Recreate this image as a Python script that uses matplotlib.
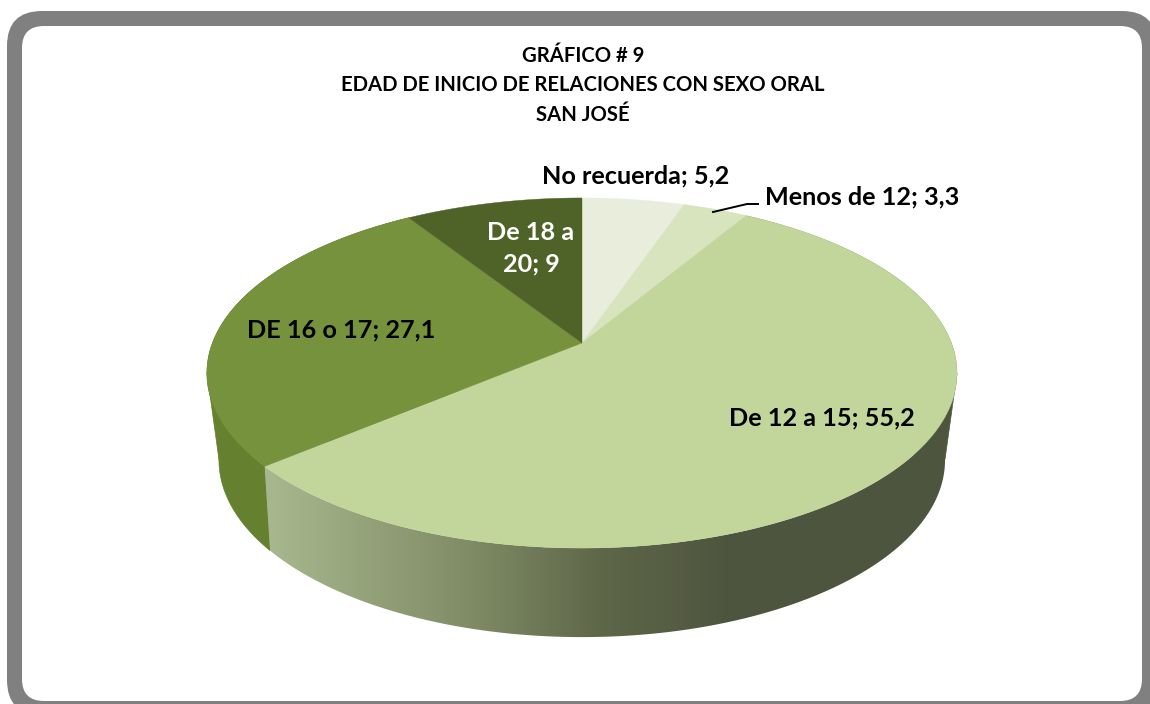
import numpy as np
import matplotlib
matplotlib.use("Agg")
import matplotlib.pyplot as plt
from matplotlib.patches import FancyBboxPatch, Polygon
from matplotlib.colors import LinearSegmentedColormap

# datos
categorias = ["No recuerda", "Menos de 12", "De 12 a 15", "DE 16 o 17", "De 18 a 20"]
valores = [5.2, 3.3, 55.2, 27.1, 9]
etiquetas = ["No recuerda; 5,2", "Menos de 12; 3,3", "De 12 a 15; 55,2",
             "DE 16 o 17; 27,1", "De 18 a\n20; 9"]
colores = ["#e8eedb", "#d7e4bd", "#c2d69b", "#76923c", "#4f6228"]
titulo = ["GRÁFICO # 9", "EDAD DE INICIO DE RELACIONES CON SEXO ORAL", "SAN JOSÉ"]

plt.rcParams["font.family"] = ["Lato", "DejaVu Sans"]
plt.rcParams["font.weight"] = "bold"

fig = plt.figure(figsize=(11.5, 7.04), dpi=100)
ax = fig.add_axes([0, 0, 1, 1])
ax.axis("off")


# proyeccion del circulo del pastel a la pantalla (en pixeles)
def proyectar(ang, a, b, k, cy):
    u = np.sin(ang)
    v = np.cos(ang)
    d = 1 + k * v
    return 582 + a * u / d, cy - b * v / d


def arriba(ang):
    return proyectar(ang, 369.5, 169.9, 0.1714, 343)


def abajo(ang):
    return proyectar(ang, 355.7, 170, 0.2, 424.6)


# marco
ax.add_patch(FancyBboxPatch((7 + 35, 11 + 35), 1150 - 70, 704 - 70,
                            boxstyle="round,pad=35,rounding_size=35",
                            fc="#808080", ec="none", zorder=0))
ax.add_patch(FancyBboxPatch((22 + 22, 26 + 22), 1120 - 44, 675 - 44,
                            boxstyle="round,pad=22,rounding_size=22",
                            fc="white", ec="none", zorder=0.1))

cortes = np.cumsum([0] + valores) / sum(valores) * 2 * np.pi

# pared lateral
grad = LinearSegmentedColormap.from_list(
    "pared", [(0, "#a9b98f"), (0.45, "#7f8b65"), (0.72, "#5f6749"), (1, "#4e553e")])
franja = np.linspace(0, 1, 256).reshape(1, -1)


def pared(i):
    t = np.linspace(cortes[i], cortes[i + 1], 300)
    x1, y1 = arriba(t)
    x2, y2 = abajo(t)
    return np.column_stack([np.r_[x1, x2[::-1]], np.r_[y1, y2[::-1]]])


# borde recto entre el extremo de arriba y el de abajo
def borde(i, extremo):
    t = np.linspace(cortes[i], cortes[i + 1], 300)
    x1, y1 = arriba(t)
    x2, y2 = abajo(t)
    a = extremo(x1)
    b = extremo(x2)
    return [(x1[a], y1[a]), (x2[b], y2[b]), (582, 400)]


ax.add_patch(Polygon(pared(3), fc="#65812f", ec="#65812f", lw=0.5, zorder=1))
ax.add_patch(Polygon(borde(3, np.argmin), fc="#65812f", ec="#65812f", lw=0.5, zorder=1))
ax.add_patch(Polygon(borde(2, np.argmax), fc="#4e553e", ec="#4e553e", lw=0.5, zorder=1))

p_d = Polygon(pared(2), fc="none", ec="none")
ax.add_patch(p_d)
img = ax.imshow(franja, cmap=grad, extent=(262, 730, 704, 0), aspect="auto", zorder=1)
img.set_clip_path(p_d)
resto = ax.imshow(np.ones((1, 2)), cmap=LinearSegmentedColormap.from_list("r", ["#4e553e", "#4e553e"]),
                  extent=(730, 1000, 704, 0), aspect="auto", zorder=1)
resto.set_clip_path(p_d)

# cara superior
for i in range(len(valores)):
    t = np.linspace(cortes[i], cortes[i + 1], 200)
    x, y = arriba(t)
    ax.fill(np.r_[582, x], np.r_[343, y], fc=colores[i], ec=colores[i], lw=0.3, zorder=2)

ax.set_xlim(0, 1150)
ax.set_ylim(704, 0)

# titulo
for txt, yy in zip(titulo, [56, 85, 115]):
    ax.text(583, yy, txt, ha="center", va="center", fontsize=14.6, color="black", zorder=5)

# etiquetas
fs = 18.2
ax.text(636, 176, etiquetas[0], ha="center", va="center", fontsize=fs, zorder=5)
ax.text(765, 197, etiquetas[1], ha="left", va="center", fontsize=fs, zorder=5)
ax.text(822, 418, etiquetas[2], ha="center", va="center", fontsize=fs, zorder=5)
ax.text(341, 330, etiquetas[3], ha="center", va="center", fontsize=fs, zorder=5)
ax.text(531, 248, etiquetas[4], ha="center", va="center", fontsize=fs, color="white",
        linespacing=1.47, zorder=5)
ax.plot([713, 747, 758], [212, 204, 204], color="black", lw=1.4, zorder=4)

fig.savefig("out.png", dpi=100)
